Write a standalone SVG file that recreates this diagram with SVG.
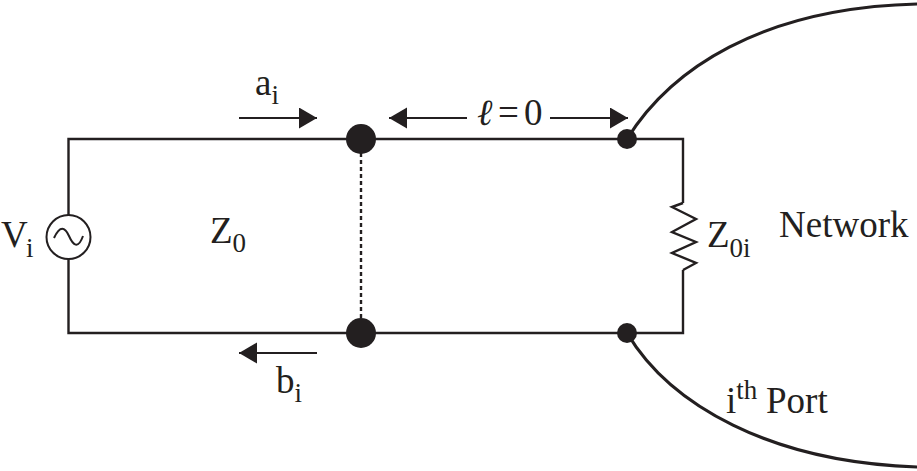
<svg xmlns="http://www.w3.org/2000/svg" width="917" height="471" viewBox="0 0 917 471">
<style>
.w{fill:none;stroke:#231f20;stroke-width:2.4}
.c{fill:none;stroke:#231f20;stroke-width:3.2}
.r{fill:none;stroke:#231f20;stroke-width:2}
.t{font-family:"Liberation Serif",serif;fill:#231f20;font-size:37px}
.s{font-size:27px}
.d{fill:#231f20}
</style>
<defs><marker id="a" markerUnits="userSpaceOnUse" markerWidth="19" markerHeight="22" refX="18" refY="10.5" orient="auto"><path d="M0 0L18 10.5L0 21Z" fill="#231f20"/></marker></defs>
<rect width="917" height="471" fill="#fff"/>
<g id="connectors">
<path class="w" d="M68.500 215V139H683V203M683 270V333H68.500V258"/>
<path class="w" d="M683 203L672 207L696 219L672 232L696 242L672 253L696 263L683 270"/>
<path class="w" stroke-dasharray="4 3" d="M361 139V333"/>
<path class="c" d="M627 139C670 70 760 8 917 4M627 333C670 405 770 462 917 467"/>
<path class="r" marker-end="url(#a)" d="M239 118H317"/>
<path class="r" marker-end="url(#a)" d="M317 353H239"/>
<path class="r" marker-end="url(#a)" d="M467 118H389"/>
<path class="r" marker-end="url(#a)" d="M550 118H628"/>
</g>
<g id="source"><circle class="r" cx="68.500" cy="237" r="22"/><path class="r" d="M54 238C60 225 65 227 69 236S78 250 83 236"/><text class="t" x="1" y="247">V<tspan class="s" x="26" dy="10">i</tspan></text></g>
<g id="node-top"><circle class="d" cx="361" cy="139" r="15"/></g>
<g id="node-bottom"><circle class="d" cx="361" cy="333" r="15"/></g>
<g id="port-top"><circle class="d" cx="627" cy="139" r="10"/></g>
<g id="port-bottom"><circle class="d" cx="627" cy="333" r="10"/></g>
<g id="labels">
<text class="t" x="255" y="95">a<tspan class="s" dy="9">i</tspan></text>
<text class="t" x="276" y="393">b<tspan class="s" dy="9">i</tspan></text>
<text class="t" x="210" y="243">Z<tspan class="s" dy="9">0</tspan></text>
<text class="t" x="477" y="125" font-style="italic" font-size="40">ℓ</text>
<text class="t" x="498" y="125">=</text>
<text class="t" x="524" y="125">0</text>
<text class="t" x="707" y="247">Z<tspan class="s" dy="10">0i</tspan></text>
<text class="t" x="779" y="237">Network</text>
<text class="t" x="726" y="413">i<tspan class="s" dy="-14">th</tspan><tspan x="766" dy="14">Port</tspan></text>
</g>
</svg>
